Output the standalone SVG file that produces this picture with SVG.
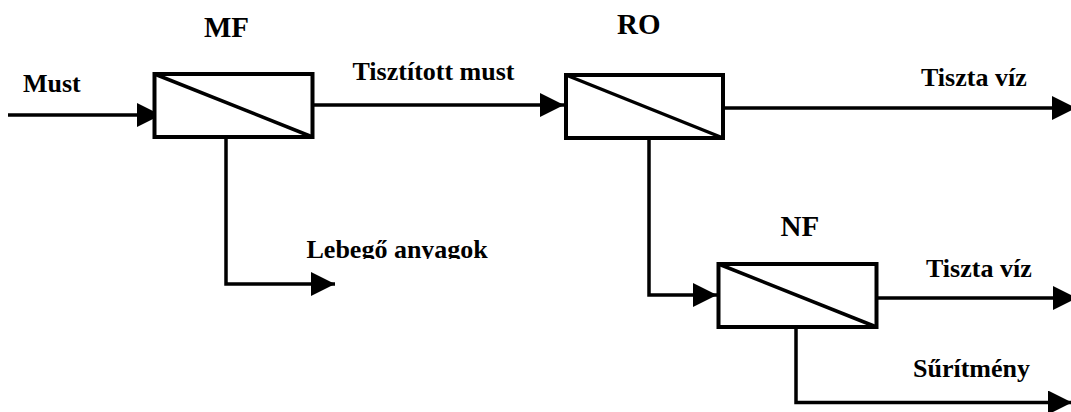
<svg xmlns="http://www.w3.org/2000/svg" width="1071" height="412" viewBox="0 0 1071 412">
<style>
.box{fill:#fff;stroke:#000;stroke-width:4}
.diag{stroke:#000;stroke-width:3.5;fill:none}
.conn{stroke:#000;stroke-width:3.5;fill:none;marker-end:url(#ah)}
.t{font-family:"Liberation Serif","Times New Roman",serif;font-weight:bold;fill:#000}
.title{font-size:29px}
.lbl{font-size:26px}
</style>
<defs>
<marker id="ah" markerUnits="userSpaceOnUse" markerWidth="24" markerHeight="24" refX="24" refY="12" orient="auto" viewBox="0 0 24 24">
<path d="M0,0 L24,12 L0,24 z" fill="#000"/>
</marker>
<clipPath id="clipLeb"><rect x="290" y="220" width="230" height="39"/></clipPath>
</defs>
<rect width="1071" height="412" fill="#fff"/>
<g id="connectors">
<path class="conn" d="M8,115 H161"/>
<path class="conn" d="M313,105 H564"/>
<path class="conn" d="M723,108 H1076"/>
<path class="conn" d="M226,137 V284 H335"/>
<path class="conn" d="M649,138 V295 H717"/>
<path class="conn" d="M877,298 H1077"/>
<path class="conn" d="M796,327 V402.5 H1072"/>
</g>
<g id="MF">
<rect class="box" x="154.5" y="74" width="158" height="63"/>
<path class="diag" d="M154.5,74 L312.5,137"/>
<text class="t title" x="204" y="37">MF</text>
</g>
<g id="RO">
<rect class="box" x="566" y="75" width="157" height="63"/>
<path class="diag" d="M566,75 L723,138"/>
<text class="t title" x="617" y="34">RO</text>
</g>
<g id="NF">
<rect class="box" x="718.5" y="264" width="158" height="63"/>
<path class="diag" d="M718.5,264 L876.5,327"/>
<text class="t title" x="780.5" y="236">NF</text>
</g>
<g id="labels">
<text class="t lbl" x="23" y="92">Must</text>
<text class="t lbl" x="352.5" y="80">Tisztított must</text>
<text class="t lbl" x="921" y="86">Tiszta víz</text>
<text class="t lbl" x="306.5" y="258" clip-path="url(#clipLeb)">Lebegő anyagok</text>
<text class="t lbl" x="926" y="277">Tiszta víz</text>
<text class="t lbl" x="913" y="377">Sűrítmény</text>
</g>
</svg>
